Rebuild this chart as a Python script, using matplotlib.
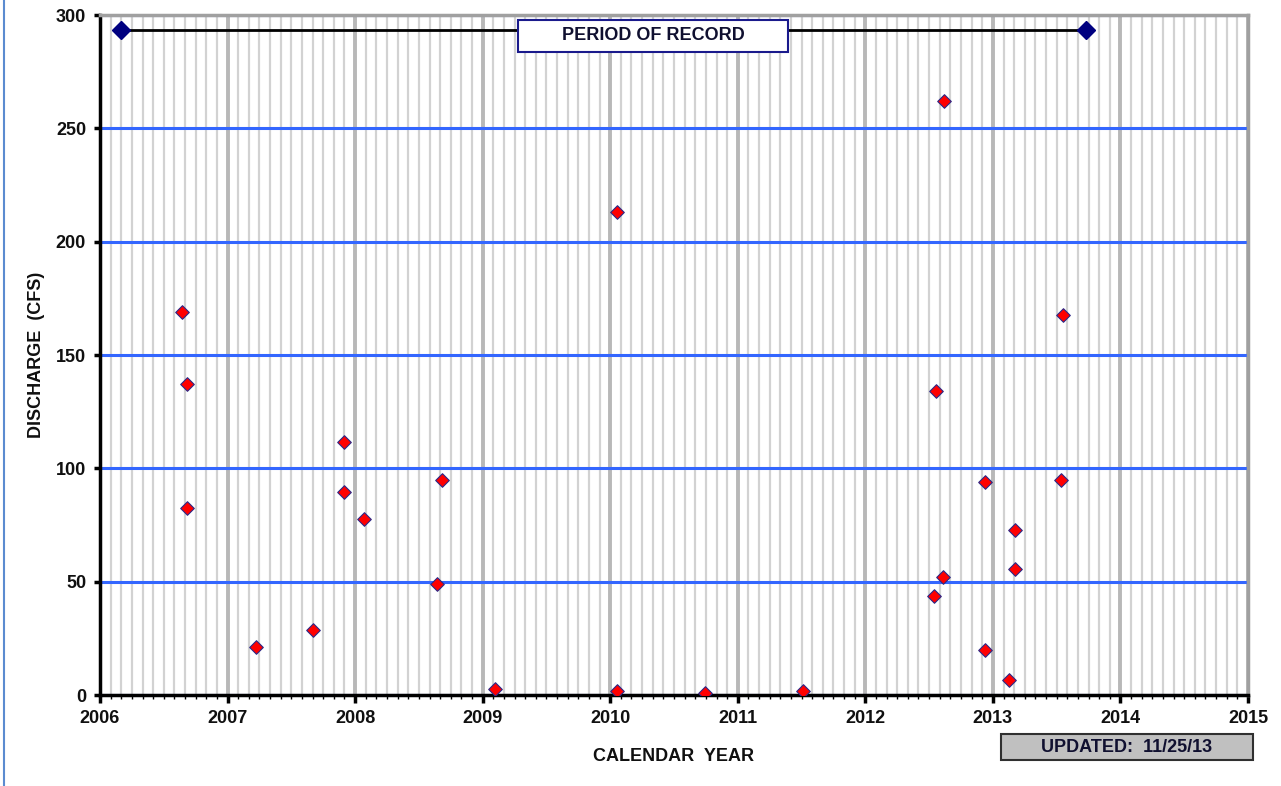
import matplotlib
matplotlib.use("Agg")
import matplotlib.pyplot as plt
from matplotlib.ticker import MultipleLocator
from matplotlib.lines import Line2D
from matplotlib.patches import Rectangle

plt.rcParams['font.family'] = ['Liberation Sans', 'DejaVu Sans']

# measurement dates (decimal year) and discharge (cfs)
years = [2006.643, 2006.682, 2006.682, 2007.223, 2007.670, 2007.913, 2007.913,
         2008.070, 2008.642, 2008.681, 2009.097, 2010.053, 2010.053, 2010.743,
         2011.511, 2012.538, 2012.554, 2012.609, 2012.617, 2012.938, 2012.938,
         2013.126, 2013.173, 2013.173, 2013.534, 2013.550]
discharge = [169, 137, 82.5, 21, 28.7, 111.6, 89.6,
             77.6, 49, 95, 2.6, 213, 1.8, 0.9,
             1.8, 43.7, 134, 52, 262, 94, 20,
             6.6, 72.8, 55.6, 95, 167.7]

period_x = [2006.165, 2013.73]
period_y = [293.4, 293.4]

x_ticks = list(range(2006, 2016))
y_ticks = [0, 50, 100, 150, 200, 250, 300]

fs = 13

fig = plt.figure(figsize=(12.81, 7.86), dpi=100)
ax = fig.add_axes([100 / 1281, 1 - 695 / 786, 1148 / 1281, 680 / 786])

ax.set_xlim(2006, 2015)
ax.set_ylim(0, 300)
ax.set_xticks(x_ticks)
ax.set_yticks(y_ticks)
ax.xaxis.set_minor_locator(MultipleLocator(1 / 12))

ax.grid(which='minor', axis='x', color='#d2d2d2', lw=1.6, zorder=0)
ax.grid(which='major', axis='x', color='#b8b8b8', lw=2.8, zorder=0)
ax.grid(which='major', axis='y', color='#3366ff', lw=2.2, zorder=0.5)
ax.set_axisbelow(True)

for s in ['top', 'right']:
    ax.spines[s].set_color('#a0a0a0')
    ax.spines[s].set_linewidth(2.5)
for s in ['left', 'bottom']:
    ax.spines[s].set_color('black')
    ax.spines[s].set_linewidth(2.5)

ax.tick_params(axis='both', which='major', direction='out', length=6, width=2.5,
               labelsize=fs, pad=5, labelcolor='#101010')
ax.tick_params(axis='y', which='major', pad=6, length=4)
ax.tick_params(axis='x', which='minor', direction='out', length=3, width=1)
for lab in ax.get_xticklabels() + ax.get_yticklabels():
    lab.set_fontweight('bold')

ax.plot(period_x, period_y, color='black', lw=2, marker='D', ms=9,
        mfc='#000080', mec='#000080', zorder=3, clip_on=False)
ax.scatter(years, discharge, marker='D', s=48, c='red', edgecolors='#2a2a8a',
           linewidths=0.8, zorder=4)

# period of record box
ax.add_patch(Rectangle((2006 + 418 / 127.56, 300 - 37 * 300 / 680), 270 / 127.56,
                       32 * 300 / 680, fc='white', ec='#1a1a8c', lw=1.5, zorder=5))
ax.text(2006 + 553 / 127.56, 300 - 21 * 300 / 680, 'PERIOD OF RECORD', ha='center',
        va='center', fontsize=fs, fontweight='bold', color='#101030', zorder=6)

ax.set_xlabel('CALENDAR  YEAR', fontsize=fs, fontweight='bold', labelpad=15,
              color='#101010')
ax.set_ylabel('DISCHARGE  (CFS)', fontsize=fs, fontweight='bold', labelpad=8,
              color='#101010')

# updated box
fig.patches.append(Rectangle((1001 / 1281, 1 - 760 / 786), 252 / 1281, 26 / 786,
                             transform=fig.transFigure, fc='#c0c0c0', ec='#303030', lw=1.5))
fig.text(1127 / 1281, 1 - 747 / 786, 'UPDATED:  11/25/13', ha='center', va='center',
         fontsize=fs, fontweight='bold', color='#101030')

# left border line of the page
fig.lines.append(Line2D([4 / 1281, 4 / 1281], [0, 1], transform=fig.transFigure,
                        color='#5b8bd0', lw=1.5))

fig.savefig('out.png', dpi=100)
